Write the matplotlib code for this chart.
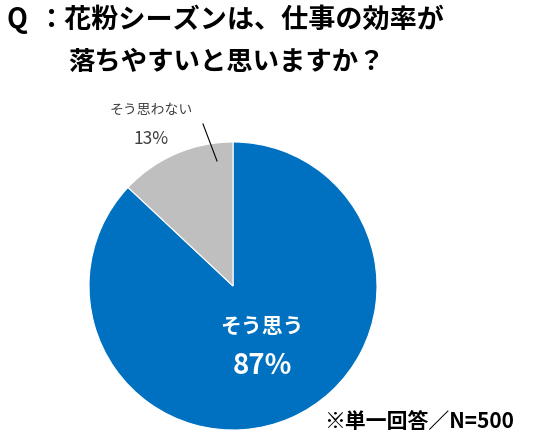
import matplotlib.pyplot as plt

plt.rcParams['font.family'] = ['Noto Sans CJK JP', 'DejaVu Sans']

# data
labels = ["そう思う", "そう思わない"]
values = [87, 13]
colors = ["#0070C0", "#BFBFBF"]

title_q = "Q"
title1 = "：花粉シーズンは、仕事の効率が"
title2 = "落ちやすいと思いますか？"
note = "※単一回答／N=500"

W, H = 534, 443
fig = plt.figure(figsize=(W / 100, H / 100), dpi=100)
ax = fig.add_axes([0, 0, 1, 1])
ax.set_aspect("equal")
ax.axis("off")

# pie (y axis is flipped, so counterclock=True draws clockwise on screen)
ax.pie(values, colors=colors, startangle=-90, counterclock=True,
       center=(233, 286), radius=144,
       wedgeprops=dict(edgecolor="white", linewidth=0.8))
ax.set_xlim(0, W)
ax.set_ylim(H, 0)

# titles
ax.text(7, 20, title_q, fontsize=19.5, fontweight="bold", va="center", ha="left")
ax.text(37, 20, title1, fontsize=19.5, fontweight="bold", va="center", ha="left")
ax.text(68, 62, title2, fontsize=19, fontweight="bold", va="center", ha="left")

# inside labels
ax.text(262, 326, labels[0], fontsize=15, fontweight="bold", color="white",
        ha="center", va="center")
ax.text(262, 366, f"{values[0]}%", fontsize=20, fontweight="bold", color="white",
        ha="center", va="center")

# outside labels with leader line
ax.text(151, 110, labels[1], fontsize=10, color="#404040", ha="center", va="center")
ax.text(151, 139, f"{values[1]}%", fontsize=12.5, color="#404040", ha="center", va="center")
ax.plot([203, 217], [124, 161], color="black", linewidth=0.8)

# note
ax.text(514, 421, note, fontsize=15, fontweight="bold", ha="right", va="center")

fig.savefig("out.png", dpi=100)
